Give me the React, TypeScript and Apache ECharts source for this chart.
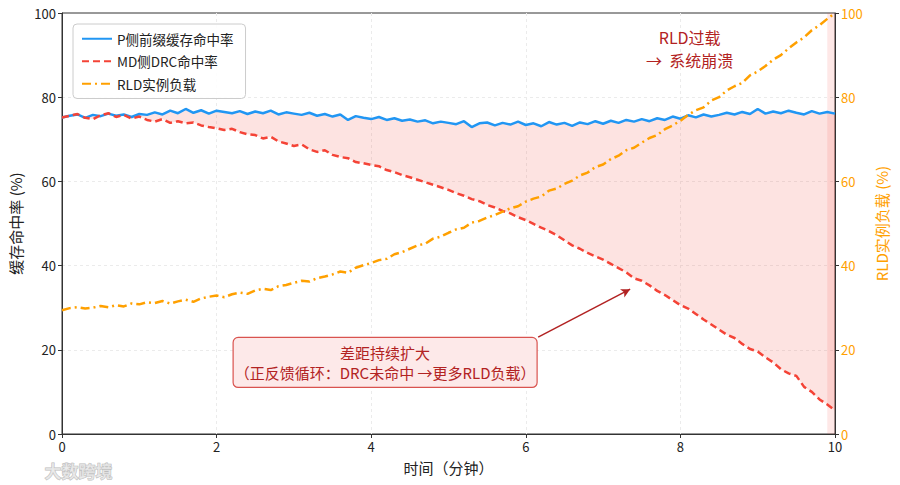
import React, { useEffect, useRef } from "react";
import * as echarts from "echarts";

// Time axis: 0..10 minutes, 0.1-minute samples
const TIME_STEP = 0.1;

const P_HIT = [
  75.2, 75.6, 75.9, 75.1, 75.8, 75.5, 76.1, 75.6, 75.9, 75.3,
  76.0, 75.8, 76.4, 75.9, 76.8, 76.2, 77.2, 76.3, 76.9, 76.1,
  76.8, 76.5, 76.2, 76.7, 76.0, 76.6, 76.2, 76.8, 75.9, 76.4,
  76.1, 75.8, 76.3, 75.6, 76.0, 75.4, 75.9, 74.6, 75.5, 75.1,
  74.8, 75.3, 74.6, 75.0, 74.4, 74.7, 74.2, 74.5, 73.8, 74.2,
  73.9, 73.6, 74.3, 72.9, 73.8, 74.0, 73.3, 73.9, 73.5, 74.2,
  73.4, 73.8, 73.1, 74.1, 73.5, 73.9, 73.2, 74.0, 73.6, 74.3,
  73.7, 74.4, 73.9, 74.6, 74.2, 74.8, 74.3, 75.0, 74.6, 75.4,
  74.9, 75.7, 75.2, 75.9, 75.4, 75.8, 76.3, 75.9, 76.5, 76.0,
  77.2, 76.1, 76.6, 76.2, 76.8, 76.3, 75.9, 76.7, 76.1, 76.5, 76.1,
];

const MD_HIT = [
  75.2, 75.6, 76.0, 75.1, 74.8, 75.7, 76.2, 75.3, 75.8, 74.9,
  75.4, 74.6, 74.2, 74.8, 73.9, 74.3, 73.8, 74.0, 73.3, 72.9,
  72.6, 72.2, 72.5, 71.7, 71.2, 71.0, 70.2, 70.6, 69.5, 69.0,
  68.4, 68.8, 67.6, 67.0, 67.4, 66.3, 65.8, 65.5, 64.6, 64.3,
  63.9, 63.6, 62.7, 62.2, 61.5, 61.0, 60.4, 59.8, 59.2, 58.6,
  58.0, 57.2, 56.6, 55.8, 55.3, 54.4, 53.8, 53.0, 52.4, 51.5,
  50.8, 49.9, 49.0, 48.2, 47.2, 46.0, 44.8, 44.0, 43.0, 42.2,
  41.4, 40.4, 39.4, 38.4, 37.0, 36.4, 35.3, 34.0, 33.0, 31.8,
  30.6, 29.8, 28.5, 27.2, 26.0, 24.8, 23.6, 22.8, 21.4, 20.2,
  19.6, 18.2, 17.0, 15.4, 14.4, 13.8, 11.2, 10.0, 8.2, 7.0, 5.6,
];

const RLD_LOAD = [
  29.4, 29.9, 30.1, 29.8, 30.0, 30.4, 30.1, 30.6, 30.3, 31.0,
  30.8, 31.3, 31.1, 31.6, 31.0, 31.5, 31.9, 31.4, 32.2, 32.6,
  32.9, 32.5, 33.2, 33.6, 33.3, 34.1, 34.5, 34.2, 35.1, 35.4,
  35.9, 36.4, 36.2, 37.0, 37.4, 37.9, 38.6, 38.3, 39.5, 40.1,
  40.6, 41.3, 41.6, 42.7, 43.2, 44.0, 44.8, 45.2, 46.4, 46.9,
  47.8, 48.6, 49.0, 50.2, 50.6, 51.4, 52.0, 52.8, 53.6, 54.1,
  55.2, 55.9, 56.4, 57.8, 58.3, 59.4, 60.2, 61.4, 62.1, 63.4,
  64.0, 65.3, 66.1, 67.4, 68.0, 69.2, 70.3, 71.0, 72.4, 73.3,
  74.4, 75.8, 76.9, 77.6, 79.2, 80.0, 81.6, 82.6, 83.4, 85.2,
  86.1, 87.4, 88.9, 90.0, 91.6, 93.0, 94.2, 95.9, 97.1, 98.6, 100.0,
];

const SERIES_NAMES = ["P侧前缀缓存命中率", "MD侧DRC命中率", "RLD实例负载"];
const X_NAME = "时间（分钟）";
const Y_LEFT_NAME = "缓存命中率 (%)";
const Y_RIGHT_NAME = "RLD实例负载 (%)";
const OVERLOAD_SPAN = [9.9, 10];
const NOTE_TOP = "RLD过载\n→  系统崩溃";
const NOTE_BOX = "差距持续扩大\n（正反馈循环：DRC未命中 →更多RLD负载）";
const NOTE_TOP_POS = [8.12, 91.5];
const NOTE_BOX_POS = [4.18, 17.0];
const ARROW_FROM = [6.16, 23.0];
const ARROW_TO = [7.35, 34.4];

const BLUE = "#2196F3";
const RED = "#F44336";
const ORANGE = "#FFA000";
const DARK_RED = "#B22222";
const FONT = "'Noto Sans CJK SC', 'DejaVu Sans', sans-serif";

export default function App() {
  const ref = useRef<HTMLDivElement>(null);

  useEffect(() => {
    document.body.style.margin = "0";
    if (!ref.current) return;
    const chart = echarts.init(ref.current, null, { renderer: "svg" });

    const t = (i: number) => +(i * TIME_STEP).toFixed(2);
    const pData = P_HIT.map((v, i) => [t(i), v]);
    const mdData = MD_HIT.map((v, i) => [t(i), v]);
    const rldData = RLD_LOAD.map((v, i) => [t(i), v]);
    const bandData = P_HIT.map((v, i) => [t(i), v, MD_HIT[i]]);

    const axisLine = { show: true, lineStyle: { color: "#333", width: 1 } };
    const axisTick = { show: true, length: 4, lineStyle: { color: "#333" } };
    const splitLine = {
      show: true, showMinLine: false, showMaxLine: false,
      lineStyle: { color: "#ebebeb", type: [3, 3] as any, width: 1 },
    };

    chart.setOption({
      animation: false,
      textStyle: { fontFamily: FONT },
      grid: {
        left: 62, right: 65, top: 13, bottom: 51,
        show: true, borderColor: "#333", borderWidth: 1, backgroundColor: "transparent",
      },
      legend: {
        data: SERIES_NAMES,
        orient: "vertical",
        left: 73, top: 24,
        padding: [8, 12, 8, 8],
        itemGap: 9,
        itemWidth: 30, itemHeight: 10,
        itemStyle: { opacity: 0 },
        backgroundColor: "rgba(255,255,255,0.9)",
        borderColor: "#cccccc", borderWidth: 1, borderRadius: 4,
        textStyle: { fontSize: 13.5, color: "#222", fontFamily: FONT },
      },
      xAxis: {
        type: "value", min: 0, max: 10, interval: 2,
        name: X_NAME, nameLocation: "middle", nameGap: 26,
        nameTextStyle: { fontSize: 15, color: "#222" },
        axisLine, axisTick,
        axisLabel: { fontSize: 13, color: "#222", margin: 6 },
        splitLine,
      },
      yAxis: [
        {
          type: "value", min: 0, max: 100, interval: 20,
          name: Y_LEFT_NAME, nameLocation: "middle", nameGap: 38,
          nameTextStyle: { fontSize: 15, color: "#222" },
          axisLine, axisTick,
          axisLabel: { fontSize: 13, color: "#222", margin: 6 },
          splitLine,
        },
        {
          type: "value", min: 0, max: 100, interval: 20, position: "right",
          name: Y_RIGHT_NAME, nameLocation: "middle", nameGap: 38, nameRotate: 90,
          nameTextStyle: { fontSize: 15, color: ORANGE },
          axisLine, axisTick,
          axisLabel: { fontSize: 13, color: ORANGE, margin: 6 },
          splitLine: { show: false },
        },
      ],
      series: [
        {
          name: "gap", type: "custom", data: bandData, silent: true, z: 1, clip: true,
          encode: { x: 0, y: [1, 2] },
          renderItem: (params: any, api: any) => {
            if (params.dataIndex !== 0) return null;
            const topPts = bandData.map((d) => api.coord([d[0], Math.max(d[1], d[2])]));
            const botPts = bandData.map((d) => api.coord([d[0], d[2]])).reverse();
            return {
              type: "polygon",
              shape: { points: topPts.concat(botPts) },
              style: { fill: "rgba(244,67,54,0.15)", stroke: "none" },
            };
          },
        },
        {
          name: SERIES_NAMES[0], type: "line", data: pData, symbol: "none", z: 3,
          lineStyle: { color: BLUE, width: 2.5 }, itemStyle: { color: BLUE },
          markArea: {
            silent: true,
            itemStyle: { color: "rgba(244,67,54,0.12)" },
            data: [[{ xAxis: OVERLOAD_SPAN[0] }, { xAxis: OVERLOAD_SPAN[1] }]],
          },
        },
        {
          name: SERIES_NAMES[1], type: "line", data: mdData, symbol: "none", z: 3,
          lineStyle: { color: RED, width: 2.5, type: [7, 4] as any }, itemStyle: { color: RED },
          markLine: {
            silent: true, symbol: ["none", "arrow"], symbolSize: [7, 9],
            label: { show: false },
            lineStyle: { color: DARK_RED, width: 1.5, type: "solid" },
            data: [[{ coord: ARROW_FROM }, { coord: ARROW_TO }]],
          },
        },
        {
          name: SERIES_NAMES[2], type: "line", data: rldData, yAxisIndex: 1, symbol: "none", z: 3,
          lineStyle: { color: ORANGE, width: 2.5, type: [9, 4, 2, 4] as any }, itemStyle: { color: ORANGE },
        },
      ],
    });

    const top = chart.convertToPixel({ gridIndex: 0 }, NOTE_TOP_POS) as number[];
    const box = chart.convertToPixel({ gridIndex: 0 }, NOTE_BOX_POS) as number[];

    chart.setOption({
      graphic: [
        {
          type: "text", x: top[0], y: top[1], z: 10,
          style: {
            text: NOTE_TOP, fill: DARK_RED, fontSize: 16, fontFamily: FONT,
            align: "center", verticalAlign: "middle", lineHeight: 23,
          },
        },
        {
          type: "group", x: box[0], y: box[1], z: 10,
          children: [
            {
              type: "rect", shape: { x: -152, y: -25, width: 304, height: 50, r: 5 },
              style: { fill: "#FDE9E9", stroke: "#D9534F", lineWidth: 1.2 },
            },
            {
              type: "text", x: 0, y: 0,
              style: {
                text: NOTE_BOX, fill: DARK_RED, fontSize: 15, fontFamily: FONT,
                align: "center", verticalAlign: "middle", lineHeight: 20,
              },
            },
          ],
        },
        {
          type: "text", left: 44, top: 461, z: 10,
          style: {
            text: "大数跨境", fill: "rgba(230,230,230,0.8)", stroke: "rgba(170,170,170,0.8)",
            lineWidth: 1, fontSize: 17, fontWeight: "bold", fontFamily: FONT,
          },
        },
      ],
    });

    return () => chart.dispose();
  }, []);

  return <div ref={ref} style={{ width: 900, height: 485 }} />;
}
